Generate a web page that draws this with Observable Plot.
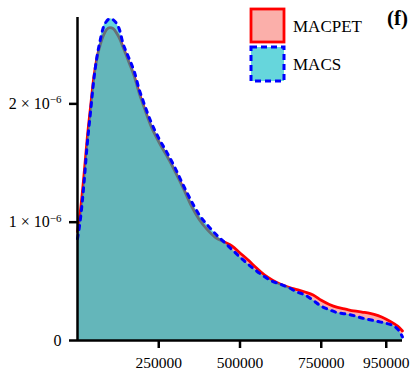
<!DOCTYPE html>
<html><head><meta charset="utf-8">
<script src="https://cdn.jsdelivr.net/npm/d3@7"></script>
<script src="https://cdn.jsdelivr.net/npm/@observablehq/plot@0.6"></script>
<style>body{margin:0;background:#fff} #chart{width:418px;height:371px}</style>
</head><body><div id="chart"></div>
<script>
// x positions (bp)
const xs = [0, 10000, 20000, 30000, 40000, 50000, 60000, 70000, 80000, 90000, 100000, 110000, 120000, 130000, 140000, 150000, 160000, 175000, 190000, 200000, 225000, 250000, 275000, 300000, 325000, 350000, 375000, 400000, 425000, 450000, 475000, 500000, 525000, 550000, 575000, 600000, 625000, 650000, 675000, 700000, 725000, 750000, 775000, 800000, 825000, 850000, 875000, 900000, 925000, 950000, 975000, 990000, 1000000];
// densities (x 1e-6)
const macpet = [0.92, 1.12, 1.40, 1.71, 1.97, 2.22, 2.39, 2.50, 2.58, 2.63, 2.645, 2.635, 2.60, 2.55, 2.48, 2.41, 2.34, 2.23, 2.09, 2.01, 1.82, 1.68, 1.56, 1.43, 1.29, 1.14, 1.02, 0.935, 0.87, 0.835, 0.80, 0.74, 0.68, 0.615, 0.555, 0.51, 0.475, 0.45, 0.43, 0.41, 0.385, 0.34, 0.305, 0.28, 0.265, 0.25, 0.24, 0.23, 0.21, 0.18, 0.14, 0.11, 0.08];
const macs = [0.86, 1.05, 1.33, 1.66, 1.93, 2.20, 2.40, 2.54, 2.65, 2.70, 2.72, 2.71, 2.68, 2.62, 2.51, 2.44, 2.375, 2.27, 2.12, 2.04, 1.855, 1.71, 1.59, 1.46, 1.315, 1.18, 1.06, 0.975, 0.90, 0.835, 0.77, 0.705, 0.645, 0.59, 0.54, 0.50, 0.475, 0.447, 0.41, 0.385, 0.34, 0.29, 0.26, 0.235, 0.225, 0.21, 0.19, 0.175, 0.16, 0.145, 0.12, 0.08, 0.03];
const seriesNames = ["MACPET", "MACS"];
const xTicks = [250000, 500000, 750000, 950000];
const yTicks = [0, 1e-6, 2e-6];
const yTickBase = ["0", "1 × 10", "2 × 10"];
const yTickExp = ["", "−6", "−6"];
const panelLabel = "(f)";

const pet = xs.map((x, i) => ({x, y: macpet[i] * 1e-6}));
const mc = xs.map((x, i) => ({x, y: macs[i] * 1e-6}));
const curve = "monotone-x";
const serif = "'Liberation Serif', 'Times New Roman', serif";

const plot = Plot.plot({
  width: 418, height: 371,
  marginLeft: 77, marginRight: 16, marginTop: 17, marginBottom: 31,
  style: {fontFamily: serif, fontSize: "16px", color: "black", background: "white", overflow: "visible"},
  x: {domain: [0, 1e6]},
  y: {domain: [0, 2.73e-6]},
  marks: [
    Plot.areaY(pet, {x: "x", y: "y", fill: "#F8766D", fillOpacity: 0.58, curve}),
    Plot.lineY(pet, {x: "x", y: "y", stroke: "#FF0000", strokeWidth: 2.8, curve}),
    Plot.areaY(mc, {x: "x", y: "y", fill: "#00BBC4", fillOpacity: 0.6, curve}),
    Plot.lineY(mc, {x: "x", y: "y", stroke: "#0000FF", strokeWidth: 3, strokeDasharray: "4,5.5", curve}),
    Plot.axisX({ticks: xTicks, tickFormat: d3.format("d"), tickSize: 8, tickPadding: 8, strokeWidth: 2.5, label: null, fontSize: 15.5}),
    Plot.axisY({ticks: yTicks, tickFormat: d => yTickBase[yTicks.indexOf(d)], tickSize: 8, tickPadding: 8, strokeWidth: 2.5, label: null, fontSize: 16}),
    Plot.ruleX([0], {strokeWidth: 2.5}),
    Plot.ruleY([0], {strokeWidth: 2.5})
  ]
});
document.getElementById("chart").appendChild(plot);

const svg = d3.select(plot);
// superscripts on y tick labels
svg.selectAll('g[aria-label="y-axis tick label"] text').each(function() {
  const t = d3.select(this);
  const idx = yTickBase.indexOf(t.text());
  if (idx >= 0 && yTickExp[idx]) {
    t.append("tspan").attr("dy", "-0.5em").style("font-size", "11px").text(yTickExp[idx]);
  }
});

// legend
const leg = svg.append("g").attr("font-family", serif).attr("font-size", 17).attr("text-anchor", "start");
leg.append("rect").attr("x", 251).attr("y", 9).attr("width", 33).attr("height", 33)
  .attr("fill", "#F8766D").attr("fill-opacity", 0.58).attr("stroke", "#FF0000").attr("stroke-width", 2.8);
leg.append("rect").attr("x", 251).attr("y", 47).attr("width", 33).attr("height", 34)
  .attr("fill", "#00BBC4").attr("fill-opacity", 0.6).attr("stroke", "#0000FF").attr("stroke-width", 3).attr("stroke-dasharray", "6,4");
leg.append("text").attr("x", 293).attr("y", 32).text(seriesNames[0]);
leg.append("text").attr("x", 293).attr("y", 70).text(seriesNames[1]);
svg.append("text").attr("x", 387).attr("y", 25).attr("font-family", serif).attr("text-anchor", "start")
  .attr("font-size", 21).attr("font-weight", "bold").text(panelLabel);
</script>
</body></html>
